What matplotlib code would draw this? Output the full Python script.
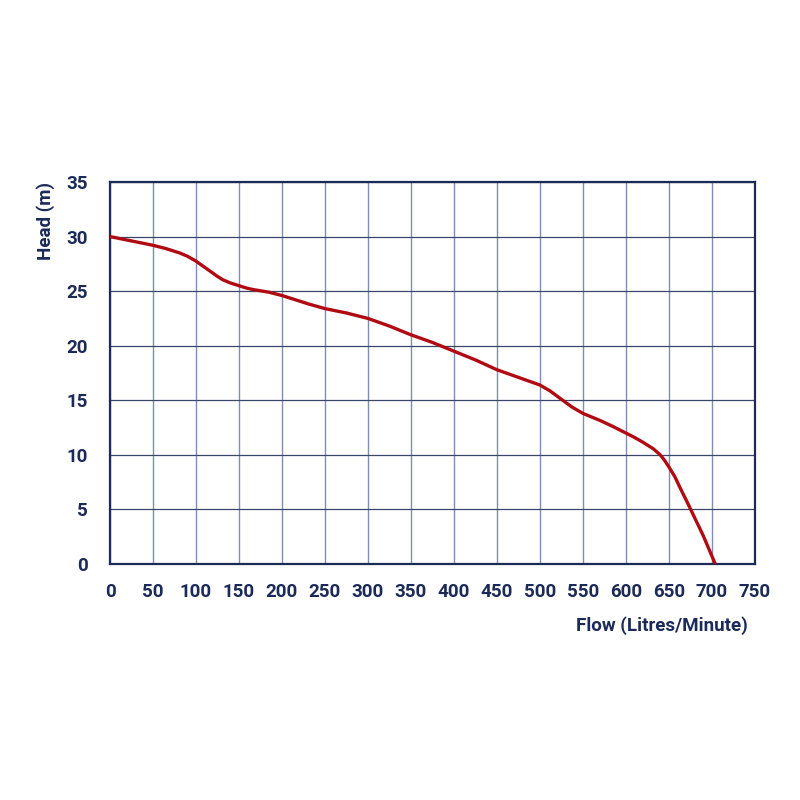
import matplotlib
matplotlib.use("Agg")
from matplotlib import pyplot as plt

# Pump curve
flow = [0, 25, 50, 65, 81, 90, 100, 108, 117, 124, 131, 140, 150, 158, 166, 185,
        200, 232, 250, 275, 300, 325, 350, 375, 400, 425, 450, 475, 500, 512, 524,
        537, 550, 570, 585, 600, 610, 620, 632, 640, 645, 650, 657, 663, 673,
        690, 704]
head = [30.0, 29.6, 29.2, 28.9, 28.5, 28.2, 27.75, 27.3, 26.8, 26.4, 26.05, 25.75,
        25.5, 25.3, 25.15, 24.9, 24.6, 23.8, 23.4, 23.0, 22.5, 21.8, 21.0, 20.3,
        19.5, 18.7, 17.8, 17.1, 16.4, 15.85, 15.15, 14.4, 13.8, 13.15, 12.6, 12.0,
        11.6, 11.15, 10.55, 10.0, 9.5, 8.9, 8.0, 7.0, 5.4, 2.6, 0.0]

x_ticks = list(range(0, 751, 50))
y_ticks = list(range(0, 36, 5))

navy = "#1b2a57"
red = "#b00b12"

plt.rcParams['font.family'] = ['Roboto', 'DejaVu Sans']

fig = plt.figure(figsize=(8, 8), dpi=100)
ax = fig.add_axes([0.1375, 0.295, 0.806, 0.4775])

ax.plot(flow, head, color=red, linewidth=2.4, solid_joinstyle='round',
        solid_capstyle='butt', zorder=3, clip_on=False)

ax.set_xlim(0, 750)
ax.set_ylim(0, 35)
ax.set_xticks(x_ticks)
ax.set_yticks(y_ticks)

ax.grid(axis='x', color='#7f8db0', linewidth=1.0)
ax.grid(axis='y', color='#3a4768', linewidth=0.9)
ax.set_axisbelow(True)

for s in ax.spines.values():
    s.set_color(navy)
    s.set_linewidth(1.6)

ax.tick_params(length=0, colors=navy, labelsize=13.5)
ax.tick_params(axis='y', pad=16)
ax.tick_params(axis='x', pad=14)
for lbl in ax.get_xticklabels() + ax.get_yticklabels():
    lbl.set_fontweight('bold')

fig.text(748 / 800, 1 - 626 / 800, "Flow (Litres/Minute)", color=navy,
         fontsize=13.5, fontweight='bold', ha='right', va='center')
fig.text(46 / 800, 1 - 182 / 800, "Head (m)", color=navy, rotation=90,
         fontsize=13.5, fontweight='bold', ha='center', va='top')

fig.savefig("out.png", dpi=100)
